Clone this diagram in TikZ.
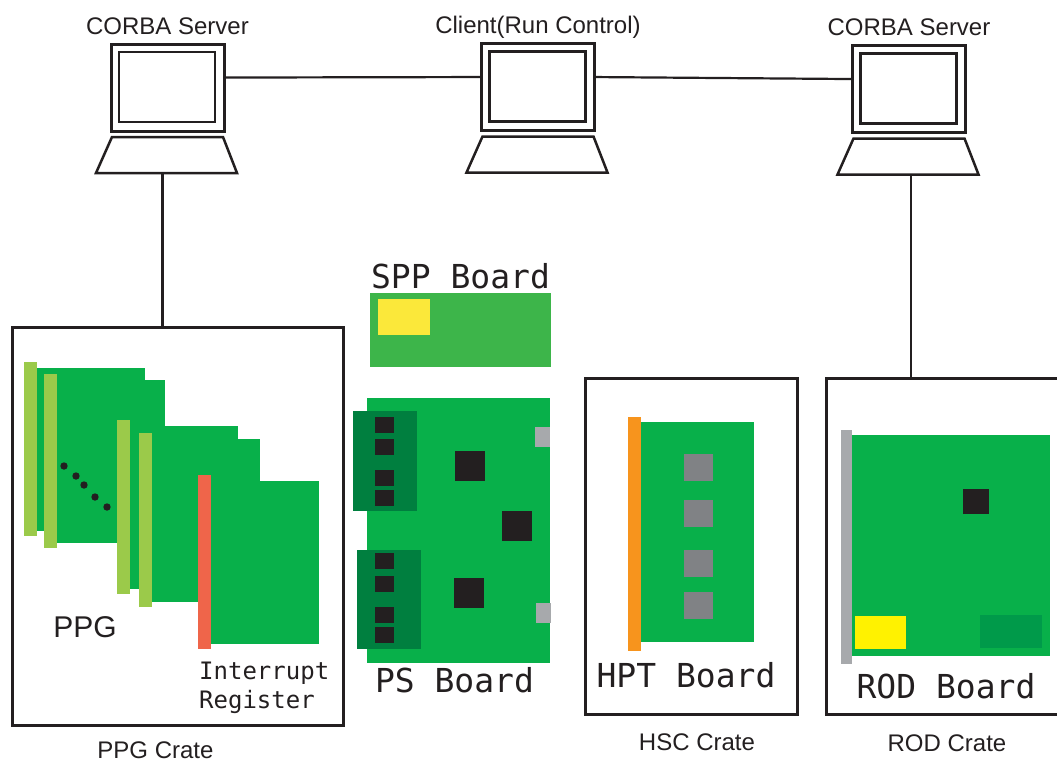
\documentclass[tikz,border=0pt]{standalone}
\usepackage{fontspec}
\setmainfont{Liberation Sans}
\newfontfamily\boardfont{DejaVu Sans Mono}
\usetikzlibrary{calc,positioning}
\definecolor{ink}{RGB}{35,31,32}
\definecolor{pcbgreen}{RGB}{8,176,74}
\definecolor{sppgreen}{RGB}{61,181,74}
\definecolor{darkpcb}{RGB}{0,127,63}
\definecolor{rodpad}{RGB}{0,154,74}
\definecolor{barlime}{RGB}{155,202,74}
\definecolor{barred}{RGB}{239,101,74}
\definecolor{barorange}{RGB}{247,148,29}
\definecolor{tabgray}{RGB}{167,169,172}
\definecolor{chipgray}{RGB}{128,130,133}
\definecolor{sppyellow}{RGB}{251,232,58}
\definecolor{rodyellow}{RGB}{255,242,0}
\tikzset{screen/.style={draw=ink,line width=3pt,minimum width=113pt,minimum height=87pt,inner sep=0pt,outer sep=0pt},
  tube/.style={draw=ink,line width=2.5pt},
  keys/.style={draw=ink,line width=2.5pt},
  link/.style={draw=ink,line width=2.2pt},
  crate/.style={draw=ink,line width=3pt,inner sep=0pt,outer sep=0pt},
  pcb/.style={fill=pcbgreen,inner sep=0pt,outer sep=0pt},
  caption/.style={text=ink,inner sep=1pt,font=\fontsize{24}{28}\selectfont},
  boardlbl/.style={text=ink,font=\boardfont\fontsize{33}{38}\selectfont}}
% screen with keyboard: name, centre of screen, caption
\newcommand{\terminal}[3]{%
  \node[screen] (#1) at (#2) {};
  \draw[tube] ($(#1.north west)+(8,8)$) rectangle ($(#1.south east)+(-9,-9)$);
  \draw[keys] ($(#1.south west)+(1,6)$) -- ($(#1.south east)+(-1,6)$) -- ($(#1.south east)+(13,42)$) -- ($(#1.south west)+(-15,42)$) -- cycle;
  \coordinate (#1 kb) at ($(#1.south)+(-1,42)$);
  \node[caption,above=10pt of #1,anchor=base] (#1 cap) {#3};}

\begin{document}
\begin{tikzpicture}[x=1pt,y=-1pt]
\useasboundingbox (0,0) rectangle (1057,761);

\terminal{srvL}{167.5,87.5}{CORBA Server}
\terminal{client}{538,87}{Client(Run Control)}
\terminal{srvR}{909,89}{CORBA Server}

% crates
\node[crate,minimum width=331pt,minimum height=398pt] (ppg) at (177.5,526) {};
\node[crate,minimum width=212pt,minimum height=336pt] (hsc) at (691,546) {};
\node[crate,minimum width=242pt,minimum height=336pt] (rodc) at (947,546) {};
\node[caption,below=33pt of ppg,anchor=base,xshift=-22pt] (ppgcap) {PPG Crate};
\node[caption,below=36.5pt of hsc,anchor=base,xshift=6pt] (hsccap) {HSC Crate};
\node[caption,below=37.5pt of rodc,anchor=base] (rodcap) {ROD Crate};

% network
\draw[link] (srvL.10) -- (client.170);
\draw[link] (client.10) -- (srvR.170);
\draw[link] ([xshift=-4pt]srvL kb) -- ([xshift=-4pt]srvL kb |- ppg.north);
\draw[link] ([xshift=3pt]srvR kb) -- ([xshift=3pt]srvR kb |- rodc.north);

% PPG boards, front panel on the left
\foreach \bx/\by/\barc in {37/368/barlime,57/380/barlime,130/426/barlime,152/439/barlime,211/481/barred}{
  \fill[pcbgreen] (\bx,\by) rectangle ++(108,163);
  \fill[\barc] (\bx-13,\by-6) rectangle ++(13,174);}
\foreach \dx/\dy in {64/466,76/476,84/485,95/497,107/507}
  \fill[ink] (\dx,\dy) circle (3.7pt);
\node[text=ink,font=\fontsize{30}{34}\selectfont,anchor=base] (ppglbl) at (85,637) {PPG};
\node[text=ink,font=\boardfont\fontsize{24}{29}\selectfont,align=left,anchor=north west,inner sep=0pt] (irlbl) at (199,661.5) {Interrupt\\Register};

% SPP board
\node[pcb,fill=sppgreen,minimum width=181pt,minimum height=74pt] (spp) at (460.5,330) {};
\fill[sppyellow] (378,299) rectangle (430,335);
\node[boardlbl,above=5pt of spp,anchor=base] (spplbl) {SPP Board};

% PS board
\node[pcb,minimum width=183pt,minimum height=265pt] (ps) at (458.5,530.5) {};
\fill[darkpcb] (353,411) rectangle (417,511);
\fill[darkpcb] (357,550) rectangle (421,649);
\foreach \cy in {417,439,470,490,553,576,607,627}
  \fill[ink] (375,\cy) rectangle ++(19,16);
\foreach \cx/\cy in {455/451,502/511,454/578}
  \fill[ink] (\cx,\cy) rectangle ++(30,30);
\fill[tabgray] (535,427) rectangle ++(15,20);
\fill[tabgray] (536,603) rectangle ++(15,20);
\node[boardlbl,below=29pt of ps,anchor=base,xshift=-4pt] (pslbl) {PS Board};

% HPT board
\fill[barorange] (628,417) rectangle (641,651);
\node[pcb,minimum width=113pt,minimum height=220pt] (hpt) at (697.5,532) {};
\foreach \cy in {454,500,550,592}
  \fill[chipgray] (684,\cy) rectangle ++(29,27);
\node[boardlbl,above=27pt of hsc.south,anchor=base,xshift=-5pt] (hptlbl) {HPT Board};

% ROD board
\fill[tabgray] (841,430) rectangle (852,664);
\node[pcb,minimum width=198pt,minimum height=221pt] (rod) at (951,545.5) {};
\fill[ink] (963,489) rectangle (989,514);
\fill[rodyellow] (855,616) rectangle (906,649);
\fill[rodpad] (980,615) rectangle (1042,648);
\node[boardlbl,below=42pt of rod,anchor=base,xshift=-5pt] (rodlbl) {ROD Board};
\end{tikzpicture}
\end{document}
